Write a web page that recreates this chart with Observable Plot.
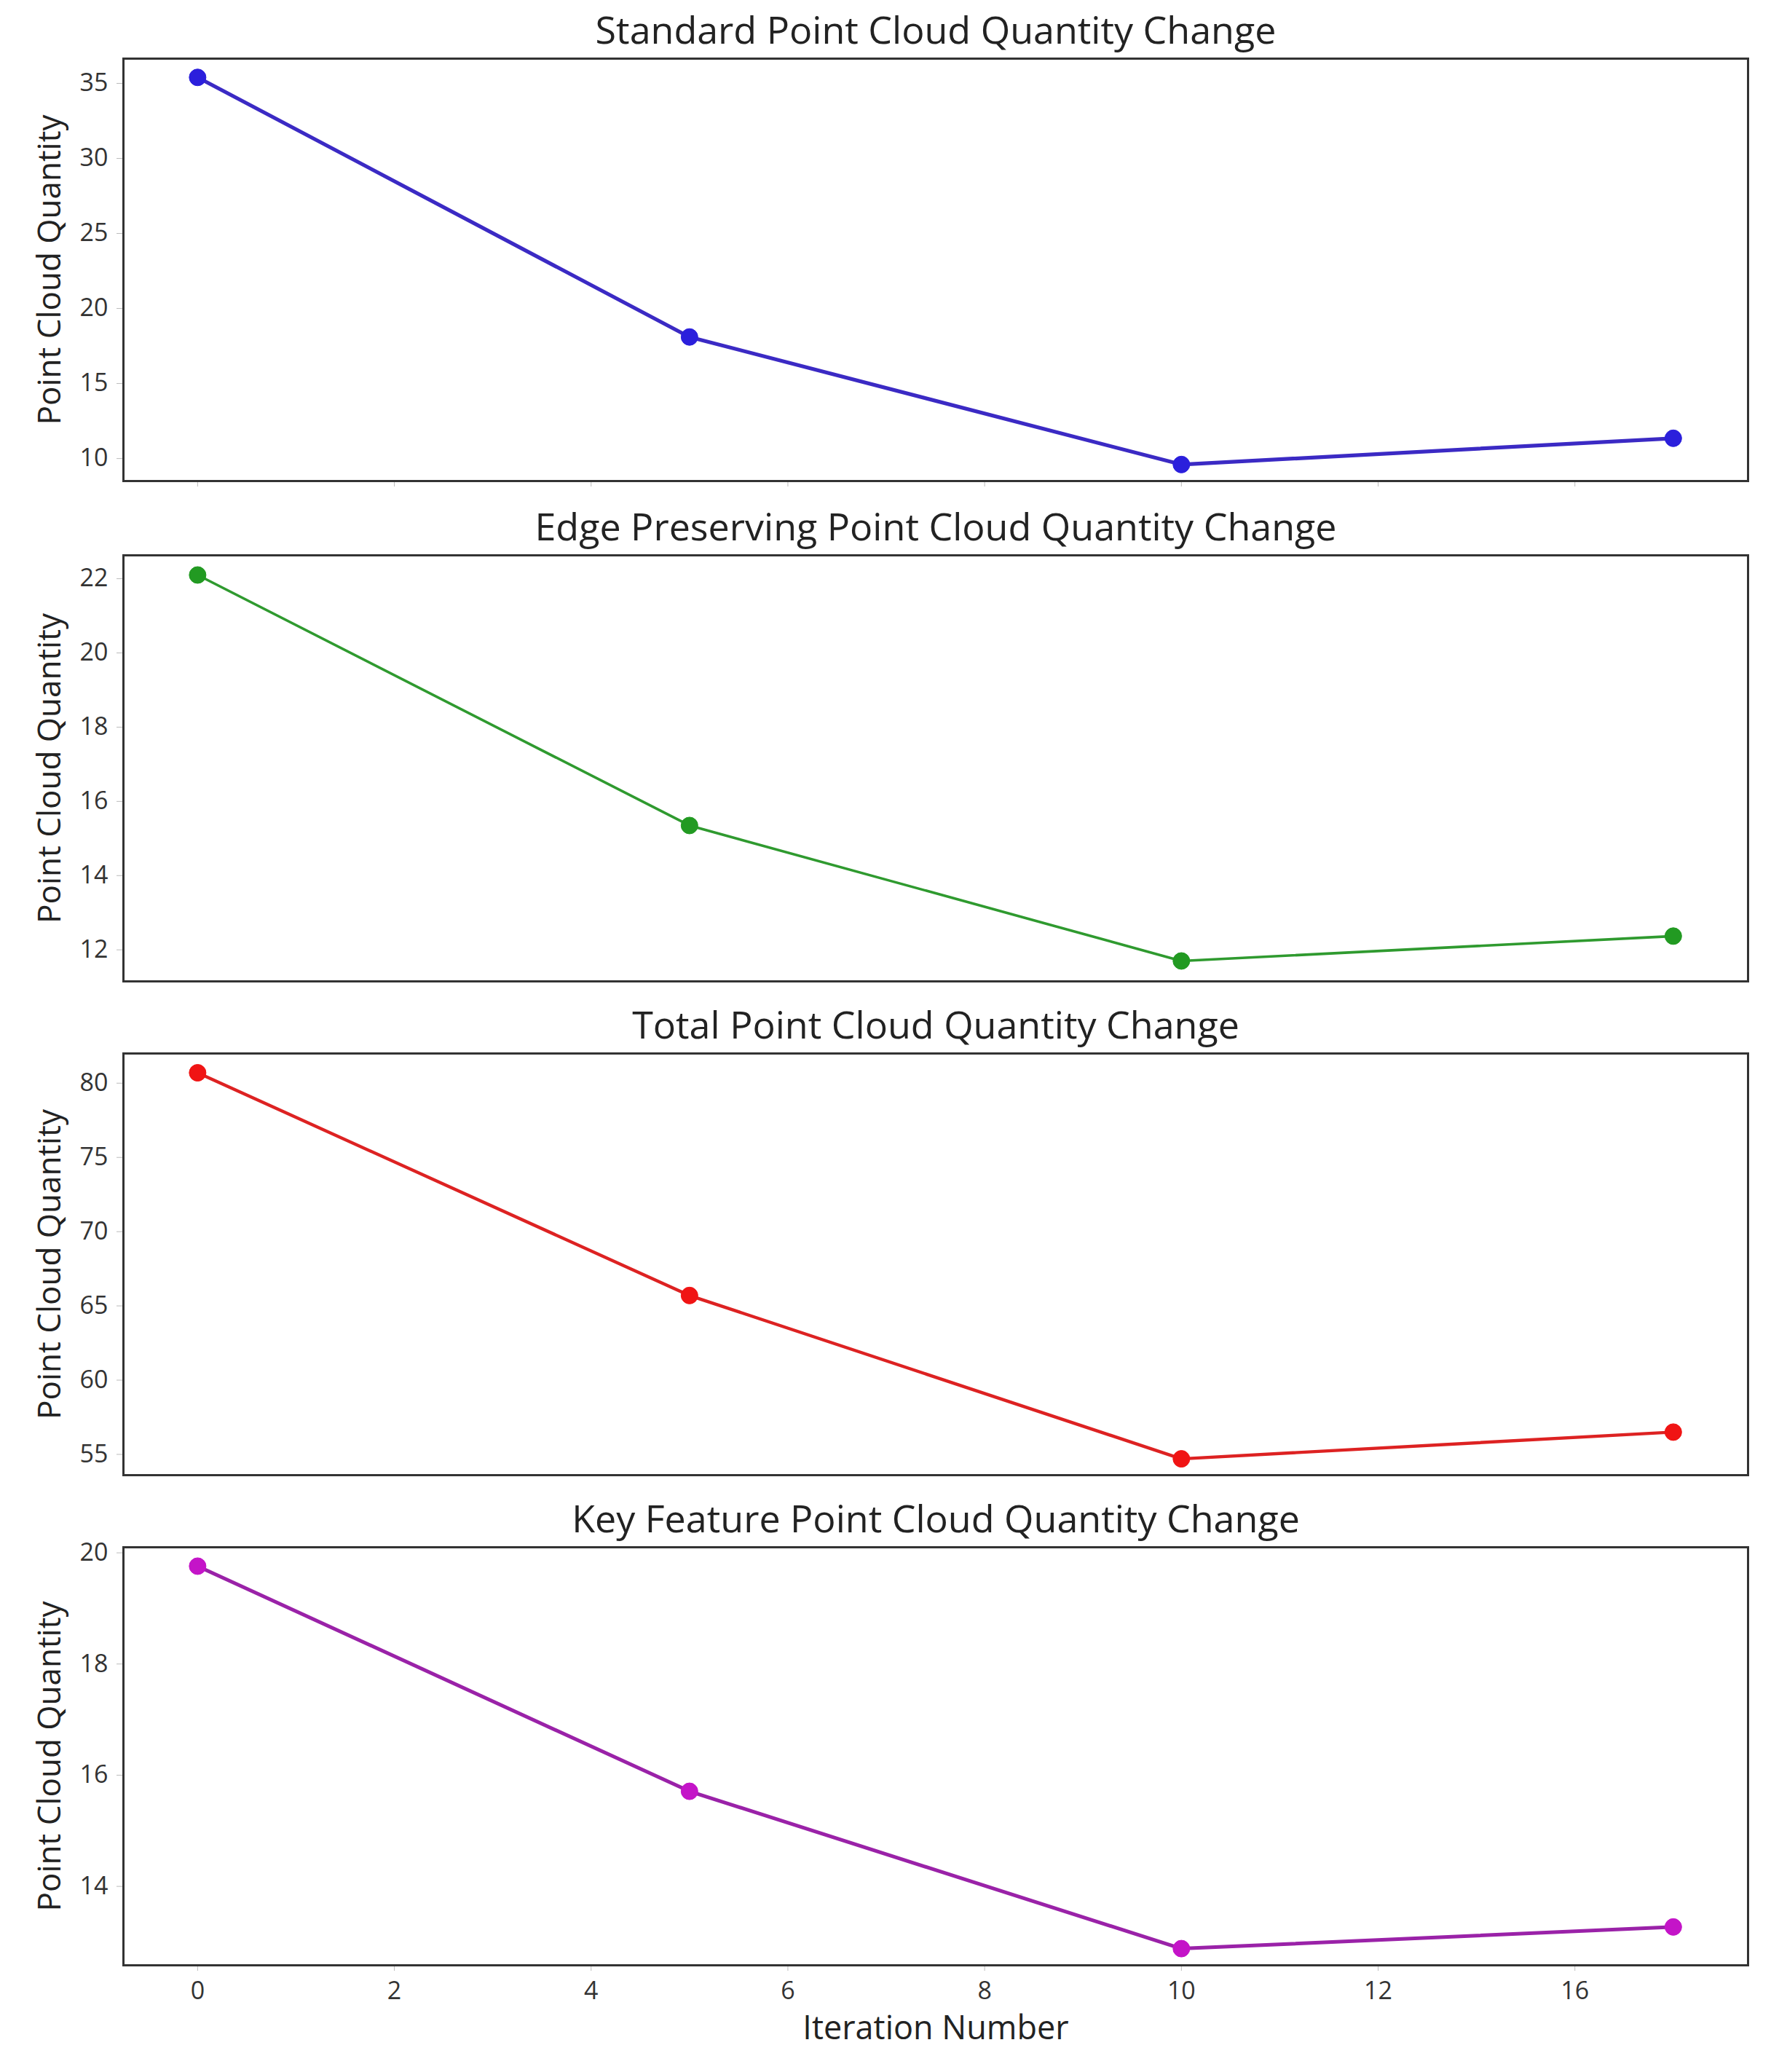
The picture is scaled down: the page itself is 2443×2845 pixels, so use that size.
<!DOCTYPE html>
<html>
<head>
<meta charset="utf-8">
<script src="https://cdn.jsdelivr.net/npm/d3@7"></script>
<script src="https://cdn.jsdelivr.net/npm/@observablehq/plot@0.6"></script>
<style>
  html, body { margin: 0; padding: 0; background: #fff; }
  #chart { width: 2443px; }
  #chart svg { display: block; }
</style>
</head>
<body>
<div id="chart"></div>
<script>
// ---- data ----
const iterations = [0, 5, 10, 15];
const standardValues = [35.4, 18.1, 9.6, 11.35];
const edgeValues = [22.1, 15.35, 11.7, 12.37];
const totalValues = [80.7, 65.7, 54.7, 56.5];
const keyValues = [19.76, 15.71, 12.88, 13.27];

const titles = [
  "Standard Point Cloud Quantity Change",
  "Edge Preserving Point Cloud Quantity Change",
  "Total Point Cloud Quantity Change",
  "Key Feature Point Cloud Quantity Change"
];
const yLabel = "Point Cloud Quantity";
const xLabel = "Iteration Number";

const standardTicks = [10, 15, 20, 25, 30, 35];
const edgeTicks = [12, 14, 16, 18, 20, 22];
const totalTicks = [55, 60, 65, 70, 75, 80];
const keyTicks = [14, 16, 18, 20];

const xTicks = [0, 2, 4, 6, 8, 10, 12, 14];
const xTickLabels = ["0", "2", "4", "6", "8", "10", "12", "16"];

// ---- layout / style ----
const FONT = "'Open Sans', 'Noto Sans', sans-serif";
const W = 2443;
const xDomain = [-0.754, 15.76];

const panels = [
  {values: standardValues, ticks: standardTicks, domain: [8.5, 36.65], title: titles[0],
   line: "#3b2ac4", dot: "#2b1fdc", sw: 5.2, mt: 80, h: 720, mb: 60, xticks: true},
  {values: edgeValues, ticks: edgeTicks, domain: [11.15, 22.63], title: titles[1],
   line: "#2f9a2f", dot: "#229a22", sw: 3.6, mt: 42, h: 680, mb: 53, xticks: false},
  {values: totalValues, ticks: totalTicks, domain: [53.6, 82.0], title: titles[2],
   line: "#dd2222", dot: "#f01414", sw: 4.4, mt: 46, h: 680, mb: 55, xticks: false},
  {values: keyValues, ticks: keyTicks, domain: [12.58, 20.1], title: titles[3],
   line: "#9a22a8", dot: "#c414c8", sw: 5, mt: 44, h: 765, mb: 147, xticks: true, xlabels: true}
];

const chart = document.getElementById("chart");

panels.forEach((p) => {
  const data = iterations.map((x, i) => ({x, y: p.values[i]}));
  let xAxis;
  if (p.xlabels) {
    xAxis = Plot.axisX({
      ticks: xTicks, tickFormat: (d) => xTickLabels[xTicks.indexOf(d)],
      tickSize: 8, tickPadding: 14, stroke: "#bbb", fontSize: 34, fill: "#333",
      label: null, fontFamily: FONT
    });
  } else if (p.xticks) {
    xAxis = Plot.axisX({ticks: xTicks, tickSize: 8, stroke: "#bbb", tickFormat: () => "", label: null});
  } else {
    xAxis = Plot.axisX({ticks: [], label: null, tickFormat: () => ""});
  }
  const marks = [
    Plot.axisY({
      ticks: p.ticks, tickSize: 9, tickPadding: 12, stroke: "#bbb",
      fontSize: 34, fill: "#333", label: null, fontFamily: FONT
    }),
    xAxis,
    Plot.frame({stroke: "#333", strokeWidth: 3}),
    Plot.line(data, {x: "x", y: "y", stroke: p.line, strokeWidth: p.sw}),
    Plot.dot(data, {x: "x", y: "y", r: 11.5, fill: p.dot, stroke: p.dot, strokeWidth: 1}),
    Plot.text([p.title], {
      frameAnchor: "top", dy: -21, lineAnchor: "bottom", textAnchor: "middle",
      fontSize: 52, fill: "#222", fontFamily: FONT
    }),
    Plot.text([yLabel], {
      frameAnchor: "left", dx: -101, rotate: -90, textAnchor: "middle", lineAnchor: "middle",
      fontSize: 44, fill: "#222", fontFamily: FONT
    })
  ];
  if (p.xlabels) {
    marks.push(Plot.text([xLabel], {
      frameAnchor: "bottom", dy: 70, lineAnchor: "top", textAnchor: "middle",
      fontSize: 45, fill: "#222", fontFamily: FONT
    }));
  }
  const svg = Plot.plot({
    width: W,
    height: p.h,
    marginTop: p.mt,
    marginBottom: p.mb,
    marginLeft: 169,
    marginRight: W - 2400,
    style: {fontFamily: FONT, background: "#fff", overflow: "visible"},
    x: {domain: xDomain},
    y: {domain: p.domain},
    marks
  });
  chart.appendChild(svg);
});
</script>
</body>
</html>
